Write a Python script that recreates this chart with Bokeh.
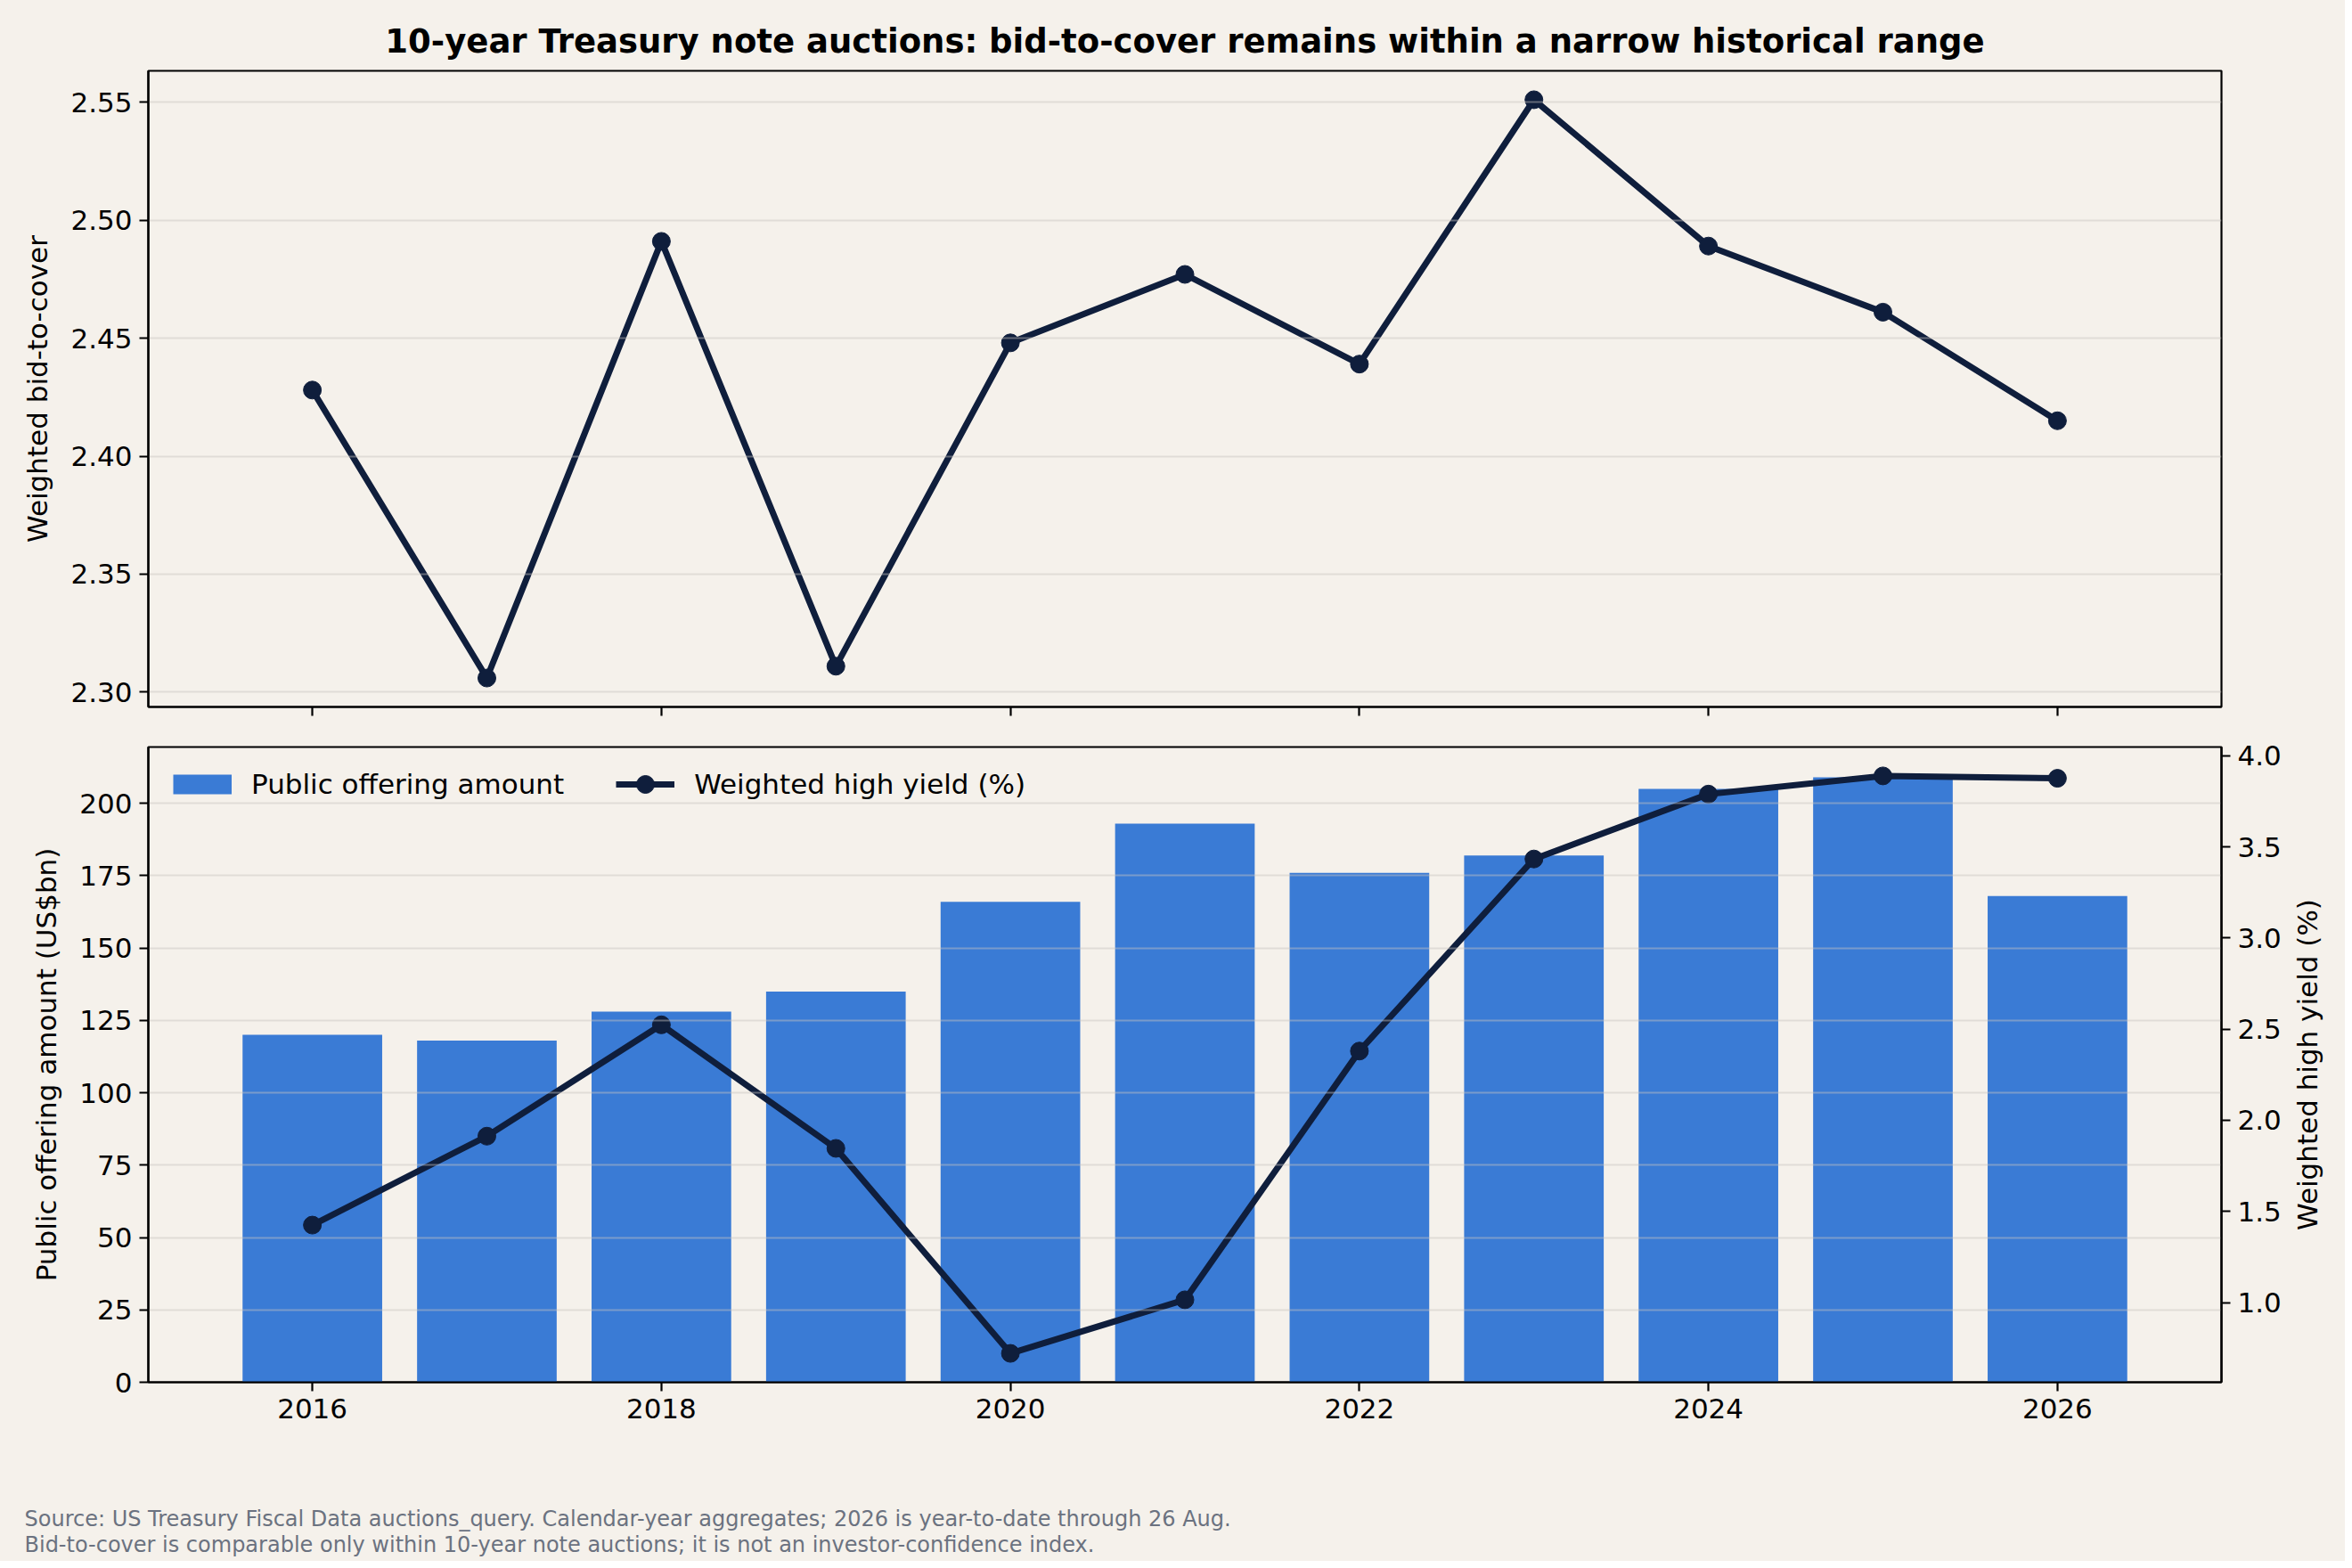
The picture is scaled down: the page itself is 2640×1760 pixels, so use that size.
from bokeh.plotting import figure
from bokeh.models import (Range1d, LinearAxis, FixedTicker, PrintfTickFormatter,
                          CustomJSTickFormatter, Legend, LegendItem, Title, Label,
                          ColumnDataSource)
from bokeh.layouts import column, row
from bokeh.embed import file_html
from bokeh.resources import INLINE

# ---- data ----
years = [2016, 2017, 2018, 2019, 2020, 2021, 2022, 2023, 2024, 2025, 2026]
bid_to_cover = [2.428, 2.306, 2.491, 2.311, 2.448, 2.477, 2.439, 2.551, 2.489, 2.461, 2.415]
offering_bn = [120, 118, 128, 135, 166, 193, 176, 182, 205, 209, 168]
high_yield = [1.425, 1.913, 2.524, 1.846, 0.721, 1.015, 2.38, 3.434, 3.79, 3.89, 3.877]

x_ticks = [2016, 2018, 2020, 2022, 2024, 2026]
btc_ticks = [2.30, 2.35, 2.40, 2.45, 2.50, 2.55]
amt_ticks = [0, 25, 50, 75, 100, 125, 150, 175, 200]
yld_ticks = [1.0, 1.5, 2.0, 2.5, 3.0, 3.5, 4.0]

title_text = "10-year Treasury note auctions: bid-to-cover remains within a narrow historical range"
yield_label = "Weighted high yield (%)"
note1 = "Source: US Treasury Fiscal Data auctions_query. Calendar-year aggregates; 2026 is year-to-date through 26 Aug."
note2 = "Bid-to-cover is comparable only within 10-year note auctions; it is not an investor-confidence index."

# ---- style ----
BG = "#f5f1eb"
BAR = "#3a7bd5"
LINE = "#0f1e3c"
NOTE = "#6b7280"
FONT = "DejaVu Sans"
TICK_FS = "31px"
W = 2632
BORDER_L = 166
BORDER_R = 139
SIDE_W = 62            # strip to the right of the lower chart that holds its right-hand axis title


def no_align(p):
    if "frame_align" in p.properties():
        p.frame_align = False


def margins(lo, hi, frac=0.05):
    pad = (hi - lo) * frac
    return lo - pad, hi + pad


bar_w = 0.8
x_lo, x_hi = margins(min(years) - bar_w / 2, max(years) + bar_w / 2)
x_range = Range1d(x_lo, x_hi)


def style_axis(ax):
    ax.axis_line_color = "black"
    ax.axis_line_width = 2.2
    ax.major_tick_line_color = "black"
    ax.major_tick_line_width = 2.2
    ax.major_tick_out = 10
    ax.major_tick_in = 0
    ax.minor_tick_line_color = None
    ax.major_label_text_font = FONT
    ax.major_label_text_font_size = TICK_FS
    ax.major_label_text_color = "black"
    ax.major_label_standoff = 8
    ax.axis_label_text_font = FONT
    ax.axis_label_text_font_size = TICK_FS
    ax.axis_label_text_font_style = "normal"
    ax.axis_label_text_color = "black"


def base_fig(width, height, y_range, top, bottom, right):
    p = figure(width=width, height=height, x_range=x_range, y_range=y_range,
               output_backend="svg", toolbar_location=None,
               min_border_left=BORDER_L, min_border_right=right,
               min_border_top=top, min_border_bottom=bottom)
    no_align(p)
    p.background_fill_color = BG
    p.border_fill_color = BG
    p.outline_line_color = "black"
    p.outline_line_width = 2.2
    p.xgrid.grid_line_color = None
    p.ygrid.grid_line_color = "#c8c4be"
    p.ygrid.grid_line_alpha = 0.45
    p.ygrid.grid_line_width = 2
    p.ygrid.level = "glyph"
    for ax in p.xaxis + p.yaxis:
        style_axis(ax)
    p.xaxis.ticker = FixedTicker(ticks=x_ticks)
    p.xaxis.formatter = PrintfTickFormatter(format="%d")
    return p


# ---- top panel: bid-to-cover ----
b_lo, b_hi = margins(min(bid_to_cover), max(bid_to_cover))
top = base_fig(W, 815, Range1d(b_lo, b_hi), 79, 22, BORDER_R)
top.yaxis.ticker = FixedTicker(ticks=btc_ticks)
top.yaxis.formatter = PrintfTickFormatter(format="%.2f")
top.yaxis.axis_label = "Weighted bid-to-cover"
top.yaxis.axis_label_standoff = 16
top.xaxis.formatter = CustomJSTickFormatter(code="return ''")
top.xaxis.major_label_standoff = 0

src_top = ColumnDataSource(dict(x=years, y=bid_to_cover))
top.line("x", "y", source=src_top, line_color=LINE, line_width=7)
top.scatter("x", "y", source=src_top, size=20, fill_color=LINE, line_color=LINE)

t = Title(text=title_text, align="center", text_font=FONT, text_font_size="37px",
          text_font_style="bold", text_color="black", standoff=24)
top.add_layout(t, "above")

# ---- bottom panel: offering amount + high yield ----
FRAME_H = 713
BOT_H = 805
bot = base_fig(W - SIDE_W, BOT_H, Range1d(0, max(offering_bn) * 1.05), 23, 69, BORDER_R - SIDE_W)
bot.yaxis.ticker = FixedTicker(ticks=amt_ticks)
bot.yaxis.formatter = PrintfTickFormatter(format="%d")
bot.yaxis.axis_label = "Public offering amount (US$bn)"
bot.yaxis.axis_label_standoff = 16

y_lo, y_hi = margins(min(high_yield), max(high_yield))
bot.extra_y_ranges = {"yield": Range1d(y_lo, y_hi)}
rax = LinearAxis(y_range_name="yield")
style_axis(rax)
rax.ticker = FixedTicker(ticks=yld_ticks)
rax.formatter = PrintfTickFormatter(format="%.1f")
bot.add_layout(rax, "right")

src_bot = ColumnDataSource(dict(x=years, amt=offering_bn, yld=high_yield))
bars = bot.vbar(x="x", top="amt", width=bar_w, source=src_bot, fill_color=BAR,
                line_color=None, level="underlay")
yl = bot.line("x", "yld", source=src_bot, y_range_name="yield", line_color=LINE, line_width=7)
ys = bot.scatter("x", "yld", source=src_bot, y_range_name="yield", size=20,
                 fill_color=LINE, line_color=LINE)
# legend swatch for the bars (a short thick band, like the reference's patch); draws nothing itself
swatch = bot.line(x=years[:1], y=[float("nan")], line_color=BAR, line_width=22, line_cap="butt")

legend = Legend(items=[LegendItem(label="Public offering amount", renderers=[swatch]),
                       LegendItem(label="Weighted high yield (%)", renderers=[yl, ys])],
                location=(28, FRAME_H - 17 - 50), orientation="horizontal")
legend.background_fill_alpha = 0
legend.border_line_alpha = 0
legend.label_text_font = FONT
legend.label_text_font_size = TICK_FS
legend.label_text_color = "black"
legend.label_text_baseline = "middle"
legend.glyph_width = 66
legend.glyph_height = 50
legend.label_height = 50
legend.label_standoff = 22
legend.spacing = 58
legend.padding = 0
legend.margin = 0
bot.add_layout(legend)

# right-hand axis title, reading bottom-to-top like the reference
side = figure(width=SIDE_W, height=BOT_H, x_axis_type=None, y_axis_type=None,
              output_backend="svg", toolbar_location=None,
              min_border_left=0, min_border_right=0, min_border_top=23, min_border_bottom=69)
no_align(side)
side.background_fill_color = BG
side.border_fill_color = BG
side.outline_line_color = None
side.grid.visible = False
side.add_layout(Title(text=yield_label, align="center", vertical_align="middle",
                      text_font=FONT, text_font_size=TICK_FS, text_font_style="normal",
                      text_color="black", standoff=0), "left")

# ---- footer notes ----
FOOT_H = 132
foot = figure(width=W, height=FOOT_H, x_axis_type=None, y_axis_type=None,
              output_backend="svg", toolbar_location=None,
              min_border_left=0, min_border_right=0, min_border_top=0, min_border_bottom=0)
no_align(foot)
foot.background_fill_color = BG
foot.border_fill_color = BG
foot.outline_line_color = None
foot.grid.visible = False
for txt, yoff in ((note1, 48), (note2, 19)):
    foot.add_layout(Label(x=27, y=yoff, x_units="screen", y_units="screen",
                          text=txt, text_font=FONT, text_font_size="24px",
                          text_color=NOTE, text_baseline="middle", text_align="left"))

layout = column(top, row(bot, side, spacing=0), foot, spacing=0)
layout.background = BG

with open("out.html", "w") as f:
    f.write(file_html(layout, INLINE))
